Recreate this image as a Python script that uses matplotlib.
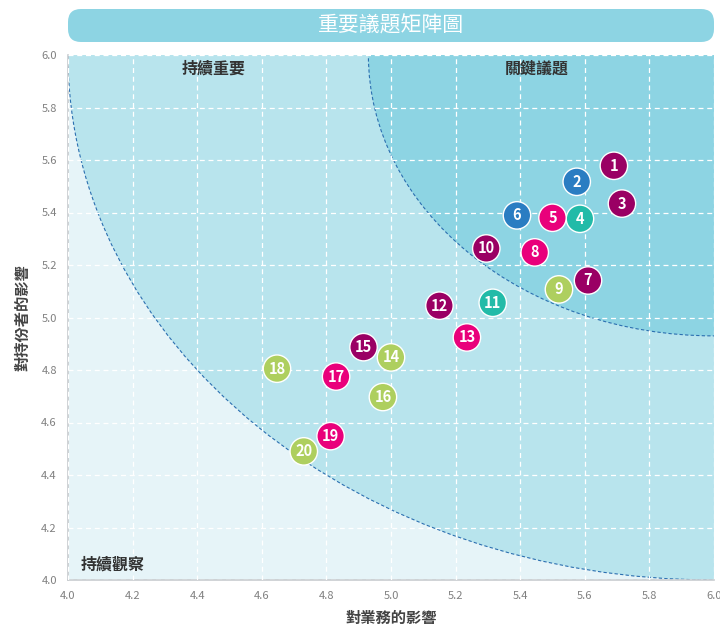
import matplotlib.pyplot as plt
from matplotlib.patches import Circle, FancyBboxPatch

plt.rcParams['font.family'] = ['Noto Sans CJK TC', 'DejaVu Sans']

# issue data
ids = list(range(1, 21))
biz = [5.69, 5.575, 5.715, 5.585, 5.50, 5.39, 5.61, 5.445, 5.52, 5.295,
       5.315, 5.15, 5.235, 5.00, 4.915, 4.975, 4.83, 4.647, 4.813, 4.73]
stake = [5.578, 5.517, 5.434, 5.376, 5.38, 5.389, 5.141, 5.248, 5.107, 5.263,
         5.056, 5.045, 4.924, 4.848, 4.887, 4.697, 4.775, 4.805, 4.548, 4.49]
groups = ['p', 'b', 'p', 't', 'm', 'b', 'p', 'm', 'g', 'p',
          't', 'p', 'm', 'g', 'p', 'g', 'm', 'g', 'm', 'g']
palette = {'p': '#9A0064', 'b': '#2A7DC2', 't': '#22BBA8', 'm': '#E9007B', 'g': '#AECF5F'}

ticks = [4.0, 4.2, 4.4, 4.6, 4.8, 5.0, 5.2, 5.4, 5.6, 5.8, 6.0]
title = '重要議題矩陣圖'
xlab = '對業務的影響'
ylab = '對持份者的影響'
quad = ['持續重要', '關鍵議題', '持續觀察']

fig = plt.figure(figsize=(7.2, 6.3), dpi=100)
ax = fig.add_axes([68/720, 1-580/630, 646/720, 525/630])
ax.set_xlim(4, 6)
ax.set_ylim(4, 6)
ax.set_facecolor('#E6F4F8')

outer = Circle((6, 6), 2.0, facecolor='#B8E4ED', edgecolor='#2B6FB0', lw=0.8,
               ls=(0, (3, 2)), zorder=0.5)
inner = Circle((6, 6), 1.07, facecolor='#8DD4E3', edgecolor='#2B6FB0', lw=0.8,
               ls=(0, (3, 2)), zorder=0.6)
ax.add_patch(outer)
ax.add_patch(inner)

ax.set_xticks(ticks)
ax.set_yticks(ticks)
ax.set_xticklabels([f'{t:.1f}' for t in ticks])
ax.set_yticklabels([f'{t:.1f}' for t in ticks])
ax.grid(True, color='white', ls=(0, (4, 3)), lw=0.9, zorder=1)
ax.set_axisbelow(False)
ax.tick_params(length=0, labelsize=8, colors='#808080', pad=8)
for s in ['top', 'right']:
    ax.spines[s].set_visible(False)
for s in ['left', 'bottom']:
    ax.spines[s].set_color('#C8CCCF')
    ax.spines[s].set_linewidth(1.2)

ax.scatter(biz, stake, s=390, c=[palette[g] for g in groups],
           edgecolors='white', linewidths=1.0, zorder=3, clip_on=False)
for i, x, y in zip(ids, biz, stake):
    ax.text(x, y, str(i), ha='center', va='center', color='white',
            fontsize=10.5, fontweight='bold', zorder=4)

ax.text(4.45, 5.95, quad[0], ha='center', va='center', fontsize=11.5,
        fontweight='bold', color='#333333')
ax.text(5.45, 5.95, quad[1], ha='center', va='center', fontsize=11.5,
        fontweight='bold', color='#333333')
ax.text(4.04, 4.06, quad[2], ha='left', va='center', fontsize=11.5,
        fontweight='bold', color='#333333')

ax.set_xlabel(xlab, fontsize=11, fontweight='bold', color='#444444', labelpad=6)
ax.set_ylabel(ylab, fontsize=11, fontweight='bold', color='#444444', labelpad=8)

box = FancyBboxPatch((68/720, 1-42/630), 646/720, 33/630,
                     boxstyle='round,pad=0,rounding_size=0.018',
                     transform=fig.transFigure, facecolor='#8DD4E3',
                     edgecolor='none', mutation_aspect=720/630)
fig.patches.append(box)
fig.text(391/720, 1-25/630, title, ha='center', va='center', fontsize=15,
         color='white', fontweight='medium')

fig.savefig('out.png', dpi=100)
